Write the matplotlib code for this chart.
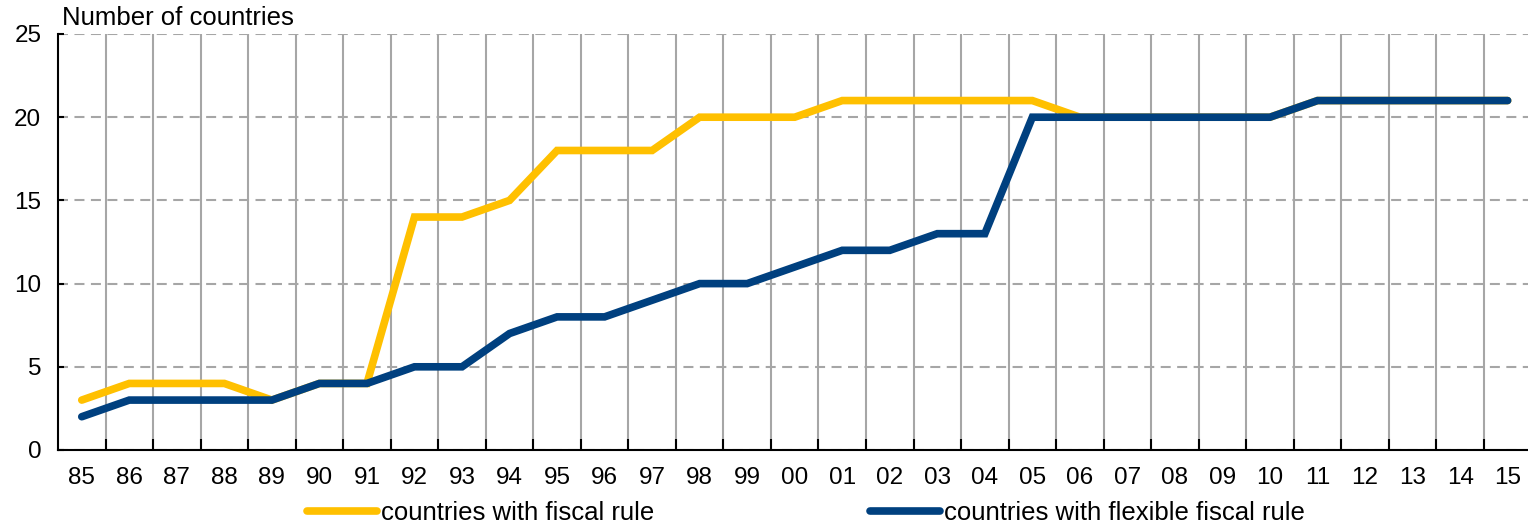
import numpy as np
import matplotlib.pyplot as plt
from matplotlib.ticker import FixedLocator

plt.rcParams['font.family'] = ['Liberation Sans', 'DejaVu Sans']

years = ['85', '86', '87', '88', '89', '90', '91', '92', '93', '94', '95', '96',
         '97', '98', '99', '00', '01', '02', '03', '04', '05', '06', '07', '08',
         '09', '10', '11', '12', '13', '14', '15']
fiscal_rule = [3, 4, 4, 4, 3, 4, 4, 14, 14, 15, 18, 18, 18, 20, 20, 20, 21, 21,
               21, 21, 21, 20, 20, 20, 20, 20, 21, 21, 21, 21, 21]
flexible_rule = [2, 3, 3, 3, 3, 4, 4, 5, 5, 7, 8, 8, 9, 10, 10, 11, 12, 12, 13,
                 13, 20, 20, 20, 20, 20, 20, 21, 21, 21, 21, 21]

yellow = '#FFC000'
blue = '#00407F'

W, H = 1528, 525
fig = plt.figure(figsize=(W / 100, H / 100), dpi=100)
ax = fig.add_axes([58 / W, 75 / H, (W - 58) / W, 416 / H])

x = np.arange(len(years))
ax.plot(x, fiscal_rule, color=yellow, lw=5.5, solid_capstyle='round',
        solid_joinstyle='miter', label='countries with fiscal rule', zorder=3)
ax.plot(x, flexible_rule, color=blue, lw=5.5, solid_capstyle='round',
        solid_joinstyle='miter', label='countries with flexible fiscal rule', zorder=4)

ax.set_xlim(-0.5, -0.5 + (W - 58) / 47.53)
ax.set_ylim(0, 25)

# year labels sit under the points, tick marks sit on the category borders
ax.set_xticks(x)
ax.set_xticklabels(years)
ax.xaxis.set_minor_locator(FixedLocator(x[:-1] + 0.5))
ax.tick_params(axis='x', which='major', length=0, pad=12, labelsize=17.5)
ax.tick_params(axis='x', which='minor', direction='in', length=8, width=1.5, color='black')
ax.set_yticks(range(0, 26, 5))
ax.tick_params(axis='y', direction='in', length=4, width=1.5, pad=12, labelsize=17.5)

ax.grid(axis='x', which='minor', color='#A6A6A6', lw=1.5, ls='-')
ax.grid(axis='y', which='major', color='#A6A6A6', lw=1.5, ls=(0, (4.8, 3.1)))
ax.set_axisbelow(True)

for s in ['top', 'right']:
    ax.spines[s].set_visible(False)
ax.spines['left'].set_linewidth(1.5)
ax.spines['bottom'].set_linewidth(1.5)

fig.text(62 / W, 1 - 18 / H, 'Number of countries', fontsize=18.5, va='center', ha='left')

fig.legend(loc='center', bbox_to_anchor=(806 / W, 1 - 513 / H), ncol=2, frameon=False,
           fontsize=18.5, handlelength=2.72, handletextpad=0.16, columnspacing=8.4,
           borderpad=0, borderaxespad=0)

fig.savefig('out.png', dpi=100)
